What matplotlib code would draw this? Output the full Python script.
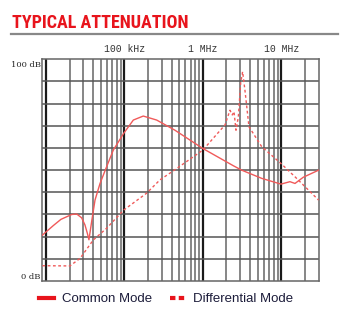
import matplotlib
matplotlib.use("Agg")
import matplotlib.pyplot as plt
from matplotlib.lines import Line2D

# values (frequency in kHz, attenuation in dB)
cm_khz = [9, 12.4, 15.5, 21.3, 24.7, 28.5, 31.4, 33.7, 35.3, 38.5, 42.2, 48.9,
          57.0, 72.1, 98.0, 130, 174, 258, 442, 998, 2450, 3130, 5640, 9930,
          12940, 15000, 19140, 30000]
cm_db = [20.7, 25.0, 27.8, 30.0, 30.2, 28.5, 25.3, 21.5, 18.6, 27.5, 36.5, 44.0,
         50.0, 59.0, 66.6, 72.6, 74.4, 72.6, 68.0, 59.8, 52.0, 50.0, 46.3, 43.7,
         44.8, 44.0, 46.8, 50.0]

dm_khz = [9, 20.2, 27.2, 40.1, 59.4, 98.0, 192, 284, 442, 998, 1920, 2220,
          2380, 2500, 2650, 2840, 3040, 3220, 3450, 3880, 5640, 9930, 15000, 30000]
dm_db = [6.9, 6.8, 10.2, 18.5, 23.8, 32.0, 39.6, 45.6, 50.2, 59.0, 70.4, 77.0,
         74.9, 76.4, 68.0, 74.0, 89.2, 94.4, 86.0, 69.6, 60.6, 53.0, 47.0, 36.5]

decades_khz = [10, 100, 1000, 10000]
decade_labels = ["", "100 kHz", "1 MHz", "10 MHz"]

curve_red = "#f05a5a"
key_red = "#e8141c"

fig = plt.figure(figsize=(3.5, 3.26), dpi=100)
ax = fig.add_axes([42.4 / 350, 45 / 326, (318.6 - 42.4) / 350, (281 - 59.3) / 326])
ax.set_xscale("log")
ax.set_xlim(9, 30000)
ax.set_ylim(0, 100)

# grid
minor = [m * d for d in [1, 10, 100, 1000, 10000] for m in range(2, 10)]
for x in minor:
    if 9 < x < 30000:
        ax.axvline(x, color="#666666", lw=1.1, zorder=1)
for x in decades_khz:
    ax.axvline(x, color="#1a1a1a", lw=1.6, zorder=1)
for y in range(10, 100, 10):
    ax.axhline(y, color="#555555", lw=1.1, zorder=1)
for s in ax.spines.values():
    s.set_color("#666666")
    s.set_linewidth(1.1)
ax.set_xticks([])
ax.set_yticks([])
ax.minorticks_off()

ax.plot(cm_khz, cm_db, color=curve_red, lw=1.0, zorder=3)
ax.plot(dm_khz, dm_db, color=curve_red, lw=1.0, ls=(0, (2.0, 1.8)), zorder=3)

for x, lab in zip(decades_khz, decade_labels):
    if lab:
        ax.text(x, 102.5, lab, ha="center", va="bottom", fontsize=7,
                family="Liberation Mono", color="#333333")
ax.text(-0.006, 0.975, "100 dB", transform=ax.transAxes, ha="right", va="center",
        fontsize=6, family="DejaVu Serif", color="#222222")
ax.text(-0.006, 0.02, "0 dB", transform=ax.transAxes, ha="right", va="center",
        fontsize=6, family="DejaVu Serif", color="#222222")

# title and rule
fig.text(12 / 350, 1 - 28 / 326, "TYPICAL ATTENUATION", ha="left", va="baseline",
         fontsize=13, fontweight="bold", family="Roboto Condensed",
         color=key_red)
fig.add_artist(Line2D([11 / 350, 338 / 350], [1 - 34 / 326, 1 - 34 / 326],
                      color="#888888", lw=1.6))

handles = [Line2D([], [], color=key_red, lw=3),
           Line2D([], [], color=key_red, lw=3, ls=(0, (1.3, 0.8)))]
fig.legend(handles, ["Common Mode", "Differential Mode"], loc="center",
           bbox_to_anchor=(166 / 350, 1 - 299 / 326), ncol=2, frameon=False,
           handlelength=1.15, handletextpad=0.6, columnspacing=1.3,
           prop={"family": "Liberation Sans", "size": 9.5}, labelcolor="#1c1c3a")

fig.savefig("out.png", dpi=100)
